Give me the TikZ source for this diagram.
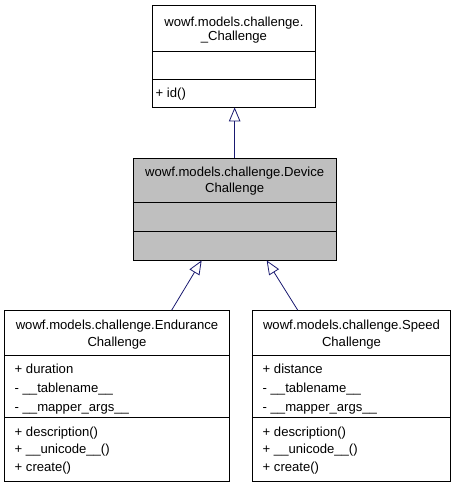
\documentclass[tikz,border=0pt]{standalone}
\usepackage{fontspec}
\setmainfont{Liberation Sans}
\usetikzlibrary{arrows.meta}
\definecolor{edgeblue}{HTML}{191970}
\definecolor{cellgray}{HTML}{BFBFBF}
\tikzset{
  classbox/.style={draw=black, line width=0.8pt, fill=white, inner sep=0pt},
  txt/.style={font=\fontsize{13.1}{16}\selectfont, inner sep=0pt},
  member/.style={txt, anchor=base west},
  title/.style={txt, anchor=base},
  sep/.style={line width=0.8pt},
  inherit/.style={draw=edgeblue, line width=0.8pt, -{Triangle[open, length=14pt, width=11.5pt]}},
}
\begin{document}
\begin{tikzpicture}[x=1pt, y=-1pt]
\useasboundingbox (0,0) rectangle (456,488);
% base class
\node[classbox, minimum width=162.3pt, minimum height=102pt] (base) at (233.9,56) {};
\draw[sep] ([yshift=-47pt]base.north west) -- ([yshift=-47pt]base.north east);
\draw[sep] ([yshift=-75pt]base.north west) -- ([yshift=-75pt]base.north east);
\node[title] (baseA) at (233.9,26) {wowf.models.challenge.};
\node[title] (baseB) at (233.9,40) {\_Challenge};
\node[member] (baseM) at (155.5,97) {+ id()};
% device challenge
\node[classbox, fill=cellgray, minimum width=202.7pt, minimum height=102pt] (device) at (234.65,209) {};
\draw[sep] ([yshift=-45pt]device.north west) -- ([yshift=-45pt]device.north east);
\draw[sep] ([yshift=-74pt]device.north west) -- ([yshift=-74pt]device.north east);
\node[title] (devA) at (234.65,176.7) {wowf.models.challenge.Device};
\node[title] (devB) at (234.65,192.7) {Challenge};
% endurance challenge
\node[classbox, minimum width=224.6pt, minimum height=170.5pt] (endur) at (117,395.75) {};
\draw[sep] ([yshift=-45.5pt]endur.north west) -- ([yshift=-45.5pt]endur.north east);
\draw[sep] ([yshift=-107.5pt]endur.north west) -- ([yshift=-107.5pt]endur.north east);
\node[title] (endA) at (117,329) {wowf.models.challenge.Endurance};
\node[title] (endB) at (117,346) {Challenge};
\node[member] (endF1) at (14.5,373.7) {+ duration};
\node[member] (endF2) at (14.5,392.7) {- \_\_tablename\_\_};
\node[member] (endF3) at (14.5,411.7) {- \_\_mapper\_args\_\_};
\node[member] (endM1) at (14.5,436) {+ description()};
\node[member] (endM2) at (14.5,453.3) {+ \_\_unicode\_\_()};
\node[member] (endM3) at (14.5,471) {+ create()};
% speed challenge
\node[classbox, minimum width=198.4pt, minimum height=170.5pt] (speed) at (351.5,395.75) {};
\draw[sep] ([yshift=-45.5pt]speed.north west) -- ([yshift=-45.5pt]speed.north east);
\draw[sep] ([yshift=-107.5pt]speed.north west) -- ([yshift=-107.5pt]speed.north east);
\node[title] (spdA) at (351.5,329) {wowf.models.challenge.Speed};
\node[title] (spdB) at (351.5,346) {Challenge};
\node[member] (spdF1) at (262.5,373.7) {+ distance};
\node[member] (spdF2) at (262.5,392.7) {- \_\_tablename\_\_};
\node[member] (spdF3) at (262.5,411.7) {- \_\_mapper\_args\_\_};
\node[member] (spdM1) at (262.5,436) {+ description()};
\node[member] (spdM2) at (262.5,453.3) {+ \_\_unicode\_\_()};
\node[member] (spdM3) at (262.5,471) {+ create()};
% inheritance
\draw[inherit] (device.north) -- (device.north |- base.south);
\draw[inherit] ([xshift=54.7pt]endur.north) -- ([xshift=-33pt]device.south);
\draw[inherit] ([xshift=-53.8pt]speed.north) -- ([xshift=32pt]device.south);
\end{tikzpicture}
\end{document}
